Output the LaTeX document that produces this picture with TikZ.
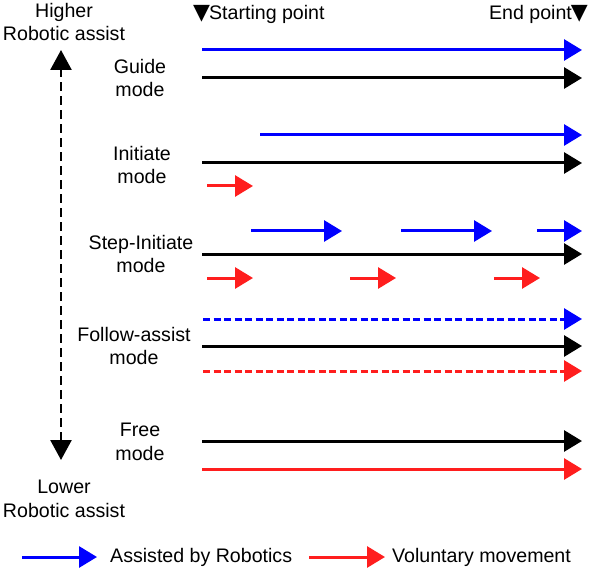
\documentclass[tikz,border=0pt]{standalone}
\usepackage{fontspec}
\setmainfont{Liberation Sans}
\newfontfamily\symfont{DejaVu Sans}
\usetikzlibrary{arrows.meta}
\definecolor{assistblue}{RGB}{0,0,255}
\definecolor{volred}{RGB}{255,30,30}
\newcommand{\pointmark}{{\symfont\fontsize{22}{22}\selectfont ▼}}
\tikzset{
  flow/.style={line width=3pt,-{Triangle[length=18pt,width=21pt]}},
  base/.style={flow,draw=black},
  assist/.style={flow,draw=assistblue},
  volun/.style={flow,draw=volred},
  dashline/.style={dash pattern=on 7pt off 3.5pt},
  modetext/.style={align=center,inner sep=0pt},
}
\begin{document}
\begin{tikzpicture}[x=1pt,y=-1pt,font=\fontsize{19.6}{23.5}\selectfont]
  \useasboundingbox (0,0) rectangle (589,572);
  % scale of assist
  \node[modetext] (high) at (64,22) {Higher\\Robotic assist};
  \node[modetext] (low)  at (64,499) {Lower\\Robotic assist};
  \coordinate (top) at (61,50);
  \coordinate (bot) at (61,460);
  \draw[line width=2.6pt,dash pattern=on 9pt off 5pt,
        {Triangle[length=20pt,width=21pt]}-{Triangle[length=20pt,width=21pt]}] (bot) -- (top);
  % start and end marks
  \node[anchor=west,inner sep=0pt] (start) at (193,14) {\pointmark\kern-1pt Starting point};
  \node[anchor=east,inner sep=0pt] (end) at (588,14) {End point\kern-1pt\pointmark};
  % mode names
  \node[modetext] (guide)  at (140,78)  {Guide\\mode};
  \node[modetext] (init)   at (142,165) {Initiate\\mode};
  \node[modetext] (step)   at (141,254) {Step-Initiate\\mode};
  \node[modetext] (follow) at (134,346) {Follow-assist\\mode};
  \node[modetext] (free)   at (140,442) {Free\\mode};
  % subject line of every mode
  \foreach \n/\y in {g/78, i/163, s/254, f/346, r/441} {
    \coordinate (\n-a) at (202,\y);
    \coordinate (\n-b) at (582,\y);
    \draw[base] (\n-a) -- (\n-b);
  }
  % robot
  \coordinate (g-ra) at (202,50);  \coordinate (g-rb) at (582,50);
  \coordinate (i-ra) at (260,135); \coordinate (i-rb) at (582,135);
  \coordinate (f-ra) at (203,319); \coordinate (f-rb) at (582,319);
  \draw[assist] (g-ra) -- (g-rb);
  \draw[assist] (i-ra) -- (i-rb);
  \draw[assist,dashline] (f-ra) -- (f-rb);
  \foreach \k/\xa/\xb in {1/251/342, 2/401/492, 3/537/582} {
    \coordinate (s-ra\k) at (\xa,231);
    \coordinate (s-rb\k) at (\xb,231);
    \draw[assist] (s-ra\k) -- (s-rb\k);
  }
  % patient
  \coordinate (i-va) at (207,186); \coordinate (i-vb) at (253,186);
  \coordinate (f-va) at (203,371); \coordinate (f-vb) at (582,371);
  \coordinate (r-va) at (202,469); \coordinate (r-vb) at (582,469);
  \draw[volun] (i-va) -- (i-vb);
  \draw[volun,dashline] (f-va) -- (f-vb);
  \draw[volun] (r-va) -- (r-vb);
  \foreach \k/\xa/\xb in {1/207/253, 2/350/396, 3/494/540} {
    \coordinate (s-va\k) at (\xa,278);
    \coordinate (s-vb\k) at (\xb,278);
    \draw[volun] (s-va\k) -- (s-vb\k);
  }
  % legend
  \coordinate (la1) at (22,557);  \coordinate (lb1) at (97,557);
  \coordinate (la2) at (309,557); \coordinate (lb2) at (385,557);
  \draw[assist] (la1) -- (lb1);
  \draw[volun] (la2) -- (lb2);
  \node[anchor=west,inner sep=0pt] (leg1) at (110,557) {Assisted by Robotics};
  \node[anchor=west,inner sep=0pt] (leg2) at (392,557) {Voluntary movement};
\end{tikzpicture}
\end{document}
